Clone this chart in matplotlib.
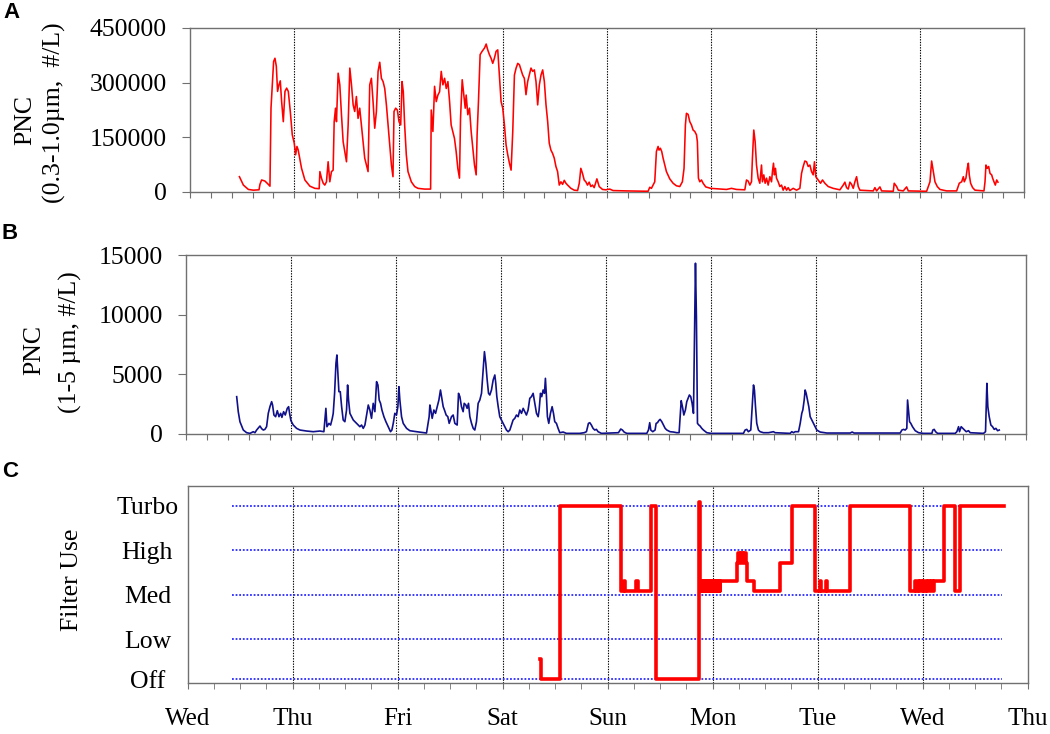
import matplotlib
matplotlib.use("Agg")
import matplotlib.pyplot as plt
import numpy as np

plt.rcParams['font.family'] = ['Liberation Serif', 'DejaVu Serif']

# x positions are in days since Wednesday 00:00
day_names = ['Wed', 'Thu', 'Fri', 'Sat', 'Sun', 'Mon', 'Tue', 'Wed', 'Thu']

# panel A: PNC 0.3-1.0 um (#/L)
a_day = [
    0.474, 0.512, 0.560, 0.608, 0.662, 0.671, 0.687, 0.719, 0.751, 0.767,
    0.777, 0.789, 0.802, 0.815, 0.828, 0.840, 0.853, 0.866, 0.879, 0.895,
    0.911, 0.927, 0.943, 0.962, 0.981, 1.000, 1.013, 1.026, 1.038, 1.070,
    1.102, 1.150, 1.198, 1.239, 1.246, 1.262, 1.278, 1.293, 1.309, 1.325,
    1.341, 1.357, 1.373, 1.383, 1.396, 1.405, 1.421, 1.437, 1.453, 1.469,
    1.485, 1.501, 1.517, 1.533, 1.549, 1.565, 1.580, 1.596, 1.612, 1.628,
    1.644, 1.660, 1.676, 1.692, 1.708, 1.724, 1.740, 1.756, 1.772, 1.788,
    1.804, 1.820, 1.836, 1.852, 1.868, 1.884, 1.900, 1.916, 1.932, 1.947,
    1.957, 1.973, 1.989, 2.005, 2.021, 2.034, 2.046, 2.059, 2.075, 2.091,
    2.123, 2.155, 2.187, 2.250, 2.308, 2.314, 2.330, 2.346, 2.362, 2.378,
    2.394, 2.410, 2.426, 2.442, 2.458, 2.474, 2.490, 2.505, 2.521, 2.537,
    2.553, 2.569, 2.585, 2.595, 2.611, 2.627, 2.640, 2.649, 2.665, 2.681,
    2.697, 2.713, 2.729, 2.745, 2.754, 2.767, 2.783, 2.802, 2.825, 2.841,
    2.856, 2.872, 2.888, 2.904, 2.920, 2.936, 2.952, 2.968, 2.984, 3.000,
    3.016, 3.032, 3.048, 3.064, 3.080, 3.096, 3.112, 3.128, 3.144, 3.160,
    3.175, 3.191, 3.207, 3.223, 3.239, 3.255, 3.271, 3.287, 3.303, 3.319,
    3.335, 3.351, 3.367, 3.383, 3.399, 3.415, 3.431, 3.446, 3.462, 3.478,
    3.494, 3.510, 3.526, 3.542, 3.558, 3.574, 3.590, 3.606, 3.622, 3.654,
    3.686, 3.718, 3.734, 3.749, 3.765, 3.781, 3.797, 3.813, 3.829, 3.845,
    3.861, 3.877, 3.903, 3.925, 3.957, 3.989, 4.026, 4.058, 4.186, 4.394,
    4.410, 4.426, 4.442, 4.458, 4.474, 4.490, 4.499, 4.512, 4.525, 4.538,
    4.554, 4.570, 4.602, 4.634, 4.666, 4.698, 4.723, 4.739, 4.752, 4.762,
    4.778, 4.794, 4.810, 4.826, 4.842, 4.858, 4.867, 4.877, 4.890, 4.906,
    4.922, 4.947, 4.995, 5.146, 5.194, 5.242, 5.322, 5.338, 5.354, 5.370,
    5.386, 5.395, 5.408, 5.421, 5.434, 5.450, 5.466, 5.482, 5.491, 5.504,
    5.517, 5.530, 5.546, 5.562, 5.578, 5.587, 5.597, 5.606, 5.616, 5.626,
    5.642, 5.658, 5.674, 5.690, 5.706, 5.722, 5.738, 5.754, 5.786, 5.818,
    5.850, 5.866, 5.882, 5.898, 5.914, 5.930, 5.946, 5.962, 5.978, 5.990,
    6.003, 6.026, 6.048, 6.067, 6.090, 6.122, 6.170, 6.234, 6.266, 6.282,
    6.298, 6.314, 6.330, 6.346, 6.362, 6.378, 6.394, 6.410, 6.426, 6.554,
    6.570, 6.586, 6.618, 6.634, 6.746, 6.755, 6.778, 6.794, 6.842, 6.874,
    6.890, 7.066, 7.098, 7.114, 7.130, 7.146, 7.168, 7.194, 7.258, 7.354,
    7.379, 7.402, 7.418, 7.427, 7.443, 7.456, 7.466, 7.475, 7.488, 7.507,
    7.530, 7.616, 7.626, 7.635, 7.648, 7.661, 7.674, 7.690, 7.699, 7.712,
    7.725, 7.738, 7.750,
]
a_pnc = [
    42000, 19000, 7000, 5000, 6000, 21000, 33000, 30000, 21000, 16000,
    230000, 294000, 358000, 367000, 345000, 276000, 294000, 305000, 248000, 193000,
    276000, 285000, 276000, 221000, 157000, 134000, 102000, 125000, 115000, 65000,
    33000, 16000, 10000, 9000, 56000, 37000, 24000, 19000, 28000, 83000,
    28000, 56000, 60000, 193000, 230000, 193000, 326000, 294000, 212000, 138000,
    111000, 83000, 184000, 340000, 294000, 239000, 221000, 262000, 202000, 230000,
    184000, 138000, 93000, 74000, 56000, 294000, 312000, 248000, 175000, 221000,
    331000, 356000, 312000, 303000, 284000, 239000, 184000, 129000, 74000, 42000,
    221000, 230000, 225000, 193000, 184000, 303000, 275000, 184000, 102000, 56000,
    28000, 15000, 10000, 8000, 8000, 225000, 166000, 290000, 248000, 266000,
    275000, 331000, 294000, 312000, 284000, 303000, 248000, 184000, 166000, 147000,
    111000, 65000, 38000, 202000, 308000, 266000, 230000, 266000, 212000, 230000,
    166000, 120000, 74000, 47000, 157000, 248000, 377000, 386000, 395000, 406000,
    390000, 377000, 367000, 353000, 367000, 386000, 390000, 321000, 248000, 230000,
    184000, 129000, 102000, 79000, 60000, 166000, 321000, 340000, 353000, 349000,
    335000, 321000, 312000, 267000, 303000, 321000, 340000, 331000, 335000, 303000,
    239000, 294000, 321000, 335000, 303000, 239000, 193000, 134000, 115000, 106000,
    93000, 70000, 56000, 19000, 28000, 21000, 32000, 24000, 19000, 10000,
    5000, 4000, 24000, 65000, 51000, 33000, 28000, 19000, 27000, 15000,
    19000, 12000, 36000, 15000, 7000, 6000, 8000, 4000, 3000, 2000,
    13000, 10000, 19000, 28000, 111000, 125000, 115000, 120000, 111000, 93000,
    74000, 56000, 36000, 24000, 17000, 15000, 28000, 65000, 184000, 216000,
    213000, 193000, 184000, 170000, 166000, 157000, 138000, 38000, 28000, 33000,
    24000, 14000, 10000, 7000, 10000, 7000, 6000, 33000, 30000, 19000,
    28000, 93000, 170000, 138000, 74000, 38000, 24000, 74000, 28000, 47000,
    24000, 38000, 19000, 42000, 28000, 56000, 79000, 47000, 65000, 38000,
    28000, 15000, 19000, 5000, 15000, 5000, 12000, 4000, 10000, 5000,
    10000, 51000, 70000, 85000, 83000, 70000, 74000, 56000, 47000, 83000,
    42000, 33000, 24000, 33000, 24000, 15000, 10000, 6000, 19000, 27000,
    12000, 8000, 27000, 21000, 10000, 28000, 42000, 15000, 5000, 3000,
    12000, 3000, 14000, 3000, 2000, 24000, 15000, 5000, 3000, 14000,
    3000, 2000, 28000, 85000, 56000, 28000, 15000, 7000, 3000, 3000,
    24000, 28000, 42000, 28000, 38000, 65000, 79000, 47000, 24000, 12000,
    5000, 3000, 28000, 74000, 65000, 70000, 51000, 47000, 38000, 28000,
    19000, 33000, 27000,
]

# panel B: PNC 1-5 um (#/L)
b_day = [
    0.483, 0.498, 0.514, 0.546, 0.578, 0.610, 0.641, 0.657, 0.673, 0.705,
    0.721, 0.737, 0.752, 0.768, 0.784, 0.800, 0.816, 0.825, 0.838, 0.854,
    0.870, 0.886, 0.902, 0.914, 0.930, 0.946, 0.965, 0.978, 0.987, 1.000,
    1.022, 1.054, 1.086, 1.149, 1.213, 1.276, 1.314, 1.333, 1.343, 1.362,
    1.378, 1.394, 1.403, 1.416, 1.429, 1.438, 1.448, 1.457, 1.470, 1.483,
    1.498, 1.514, 1.530, 1.540, 1.549, 1.562, 1.578, 1.594, 1.625, 1.657,
    1.673, 1.689, 1.705, 1.721, 1.737, 1.752, 1.768, 1.784, 1.800, 1.816,
    1.829, 1.841, 1.854, 1.867, 1.886, 1.905, 1.927, 1.949, 1.962, 1.975,
    1.990, 2.006, 2.019, 2.029, 2.038, 2.054, 2.070, 2.102, 2.133, 2.197,
    2.292, 2.317, 2.324, 2.333, 2.346, 2.362, 2.378, 2.394, 2.410, 2.425,
    2.438, 2.451, 2.463, 2.479, 2.495, 2.508, 2.530, 2.546, 2.562, 2.584,
    2.597, 2.610, 2.625, 2.641, 2.651, 2.667, 2.679, 2.692, 2.705, 2.721,
    2.737, 2.752, 2.768, 2.784, 2.800, 2.816, 2.832, 2.844, 2.857, 2.870,
    2.883, 2.895, 2.911, 2.927, 2.943, 2.952, 2.962, 2.975, 2.990, 3.006,
    3.022, 3.038, 3.054, 3.070, 3.086, 3.102, 3.117, 3.133, 3.149, 3.165,
    3.181, 3.197, 3.213, 3.229, 3.244, 3.260, 3.276, 3.292, 3.308, 3.324,
    3.340, 3.356, 3.365, 3.378, 3.390, 3.403, 3.416, 3.425, 3.435, 3.444,
    3.457, 3.473, 3.489, 3.502, 3.514, 3.530, 3.546, 3.562, 3.594, 3.625,
    3.752, 3.794, 3.816, 3.835, 3.848, 3.863, 3.879, 3.895, 3.911, 3.927,
    3.959, 4.121, 4.143, 4.159, 4.175, 4.200, 4.391, 4.407, 4.419, 4.429,
    4.448, 4.470, 4.480, 4.493, 4.505, 4.518, 4.534, 4.550, 4.566, 4.582,
    4.613, 4.645, 4.677, 4.699, 4.709, 4.719, 4.731, 4.744, 4.759, 4.772,
    4.785, 4.797, 4.810, 4.823, 4.836, 4.845, 4.855, 4.864, 4.874, 4.887,
    4.899, 4.915, 4.931, 4.963, 5.004, 5.312, 5.328, 5.344, 5.359, 5.382,
    5.395, 5.408, 5.417, 5.427, 5.439, 5.455, 5.471, 5.503, 5.551, 5.598,
    5.614, 5.757, 5.773, 5.789, 5.805, 5.837, 5.853, 5.868, 5.878, 5.891,
    5.900, 5.910, 5.922, 5.935, 5.948, 5.964, 5.980, 5.996, 6.011, 6.043,
    6.107, 6.329, 6.348, 6.367, 6.806, 6.822, 6.838, 6.853, 6.869, 6.876,
    6.885, 6.895, 6.907, 6.923, 6.949, 6.981, 7.028, 7.108, 7.117, 7.130,
    7.143, 7.162, 7.330, 7.346, 7.362, 7.371, 7.387, 7.403, 7.419, 7.435,
    7.457, 7.473, 7.600, 7.619, 7.632, 7.641, 7.654, 7.670, 7.686, 7.702,
    7.718, 7.734, 7.750,
]
b_pnc = [
    3108, 1848, 1008, 308, 84, 28, 168, 84, 308, 644,
    420, 308, 364, 588, 1708, 2268, 2688, 2408, 1568, 1428,
    1932, 1428, 1708, 1372, 1848, 1568, 2128, 2268, 1708, 1092,
    728, 448, 308, 224, 168, 224, 168, 2128, 588, 868,
    728, 1288, 1708, 3388, 5908, 6608, 5068, 3528, 3528, 2268,
    1148, 1008, 1988, 4088, 2828, 1708, 1428, 1148, 868, 588,
    728, 448, 728, 1568, 2408, 1988, 1288, 2548, 1848, 4368,
    4088, 2828, 2548, 1988, 1428, 1008, 588, 168, 308, 868,
    1708, 1568, 2268, 3948, 2828, 1428, 868, 448, 252, 168,
    56, 1428, 2408, 1988, 1288, 1988, 1708, 2268, 2828, 3668,
    2968, 2268, 1988, 1568, 1428, 868, 1428, 1568, 868, 728,
    3388, 3108, 2268, 1848, 2548, 2408, 2128, 2548, 1428, 868,
    448, 308, 1008, 2548, 2828, 3388, 5348, 6888, 5908, 4508,
    3388, 3248, 3668, 4508, 4928, 4228, 3108, 2268, 1428, 1148,
    868, 588, 308, 168, 308, 728, 1148, 1288, 1568, 1428,
    1988, 1708, 2128, 1848, 1568, 1988, 2968, 3108, 3388, 2548,
    1708, 1428, 1988, 3388, 3108, 3668, 3388, 4648, 3108, 1428,
    868, 1708, 2268, 1708, 1008, 868, 448, 84, 140, 28,
    28, 84, 168, 868, 924, 728, 448, 308, 364, 168,
    28, 84, 392, 308, 140, 28, 28, 308, 924, 308,
    168, 308, 868, 924, 1092, 1204, 1008, 728, 448, 308,
    168, 140, 84, 84, 1428, 2772, 2268, 1568, 1988, 2688,
    2968, 3248, 3108, 2548, 1708, 7588, 14308, 9828, 868, 728,
    644, 448, 308, 84, 28, 28, 308, 364, 168, 308,
    2128, 4088, 3668, 2268, 868, 308, 168, 84, 84, 168,
    84, 28, 168, 84, 168, 168, 868, 1708, 1988, 2828,
    3668, 3388, 2828, 2268, 1428, 1148, 868, 588, 308, 140,
    56, 56, 140, 56, 56, 308, 364, 308, 448, 2828,
    1988, 1008, 868, 588, 252, 84, 28, 28, 308, 364,
    168, 28, 28, 168, 588, 168, 588, 448, 308, 168,
    252, 84, 28, 168, 4228, 2268, 1428, 728, 588, 364,
    448, 252, 308,
]

# panel C: filter setting, change points (step holds until next point)
c_level_names = ['Off', 'Low', 'Med', 'High', 'Turbo']
c_level_pos = [0.1, 1, 2, 3, 4]
c_day = [
    3.359, 3.362, 3.549, 4.130, 4.158, 4.167, 4.272, 4.286, 4.416, 4.460,
    4.867, 4.880, 4.892, 4.899, 4.908, 4.915, 4.927, 4.934, 4.946, 4.953,
    4.965, 4.972, 4.984, 4.991, 5.003, 5.010, 5.022, 5.029, 5.041, 5.048,
    5.060, 5.067, 5.073, 5.232, 5.245, 5.258, 5.265, 5.290, 5.297, 5.315,
    5.327, 5.390, 5.644, 5.756, 5.971, 6.022, 6.032, 6.083, 6.093, 6.305,
    6.876, 6.930, 6.940, 6.952, 6.965, 6.978, 6.990, 7.003, 7.016, 7.029,
    7.042, 7.055, 7.068, 7.081, 7.094, 7.105, 7.200, 7.305, 7.359, 7.778,
]
c_setting = [
    0.56, 0.1, 4.0, 2.07, 2.3, 2.07, 2.3, 2.07, 4.0, 0.1,
    4.07, 2.07, 2.3, 2.07, 2.3, 2.07, 2.3, 2.07, 2.3, 2.07,
    2.3, 2.07, 2.3, 2.07, 2.3, 2.07, 2.3, 2.07, 2.3, 2.07,
    2.3, 2.07, 2.3, 2.72, 2.94, 2.72, 2.94, 2.72, 2.94, 2.72,
    2.3, 2.07, 2.72, 4.0, 2.07, 2.3, 2.07, 2.3, 2.07, 4.0,
    2.07, 2.3, 2.07, 2.3, 2.07, 2.3, 2.07, 2.3, 2.07, 2.3,
    2.07, 2.3, 2.07, 2.3, 2.07, 2.3, 4.0, 2.07, 4.0, 4.0,
]

W, H = 1050, 734
fig = plt.figure(figsize=(W / 100, H / 100), dpi=100)


def box(left, top, right, bottom):
    return [left / W, 1 - bottom / H, (right - left) / W, (bottom - top) / H]


ax_a = fig.add_axes(box(190, 28, 1024, 192))
ax_b = fig.add_axes(box(186, 255, 1025.5, 433.7))
ax_c = fig.add_axes(box(187.7, 486, 1027.7, 682.7))

edge = '#707070'
for ax in (ax_a, ax_b, ax_c):
    ax.set_xlim(0, 8)
    for s in ax.spines.values():
        s.set_color(edge)
        s.set_linewidth(1.0)
    for d in range(1, 8):
        ax.axvline(d, color='black', lw=0.8, ls=(0, (1.2, 1.2)), zorder=1)

# A
ax_a.plot(a_day, a_pnc, color='#ff0000', lw=1.15, zorder=3)
ax_a.set_ylim(0, 450000)
ax_a.set_yticks([0, 150000, 300000, 450000],
                labels=['0', '150000', '300000', '450000'])
ax_a.tick_params(axis='y', length=5.5, color=edge, pad=11, labelsize=18.5)

# B
ax_b.plot(b_day, b_pnc, color='#10108a', lw=1.2, zorder=3)
ax_b.set_ylim(0, 15000)
ax_b.set_yticks([0, 5000, 10000, 15000],
                labels=['0', '5000', '10000', '15000'])
ax_b.tick_params(axis='y', length=5.5, color=edge, pad=11, labelsize=18.5)

for ax in (ax_a, ax_b):
    ax.set_xticks(np.arange(0, 8.001, 0.2))
    ax.tick_params(axis='x', length=4.3, color=edge, labelbottom=False)

# C
ax_c.hlines(c_level_pos, 0.425, 7.756, colors='#2b2bff', lw=1.3,
            linestyles=(0, (1, 1)), zorder=2)
ax_c.plot(c_day, c_setting, color='#ff0000', lw=2.6, drawstyle='steps-post',
          zorder=3)
ax_c.set_ylim(0.02, 4.44)
ax_c.set_yticks(c_level_pos, labels=c_level_names)
ax_c.tick_params(axis='y', length=0, pad=29, labelsize=18.5)
for lab in ax_c.get_yticklabels():
    lab.set_horizontalalignment('center')
ax_c.set_xticks(range(9), labels=day_names)
ax_c.set_xticks(np.arange(0, 8.001, 0.25), minor=True)
ax_c.tick_params(axis='x', which='both', length=4.3, color=edge,
                 pad=14, labelsize=18)

# axis titles and panel letters
ylab = dict(rotation=90, ha='center', va='center', fontsize=18.5)
fig.text(25 / W, 1 - 120 / H, 'PNC', **ylab)
fig.text(54 / W, 1 - 113 / H, '(0.3-1.0µm,  #/L)', **ylab)
fig.text(34.5 / W, 1 - 350 / H, 'PNC', **ylab)
fig.text(70 / W, 1 - 342 / H, '(1-5 µm, #/L)', **ylab)
fig.text(72 / W, 1 - 580 / H, 'Filter Use', **ylab)

for letter, x, y in (('A', 11.5, 12.5), ('B', 10, 233), ('C', 10, 472)):
    fig.text(x / W, 1 - y / H, letter, ha='center', va='center',
             family='Liberation Sans', weight='bold', fontsize=16)

fig.savefig('out.png', dpi=100)
